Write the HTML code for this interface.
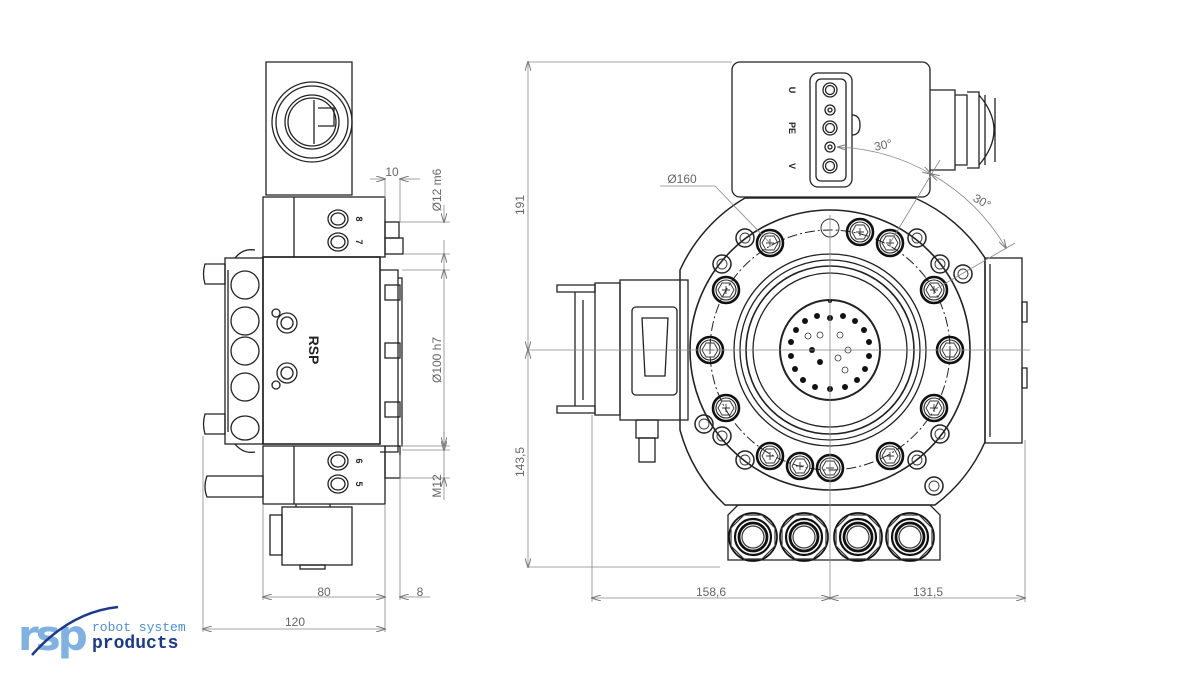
<!DOCTYPE html>
<html><head><meta charset="utf-8"><style>
html,body{margin:0;padding:0;background:#fff;}
svg{display:block;font-family:"Liberation Sans",sans-serif;}
</style></head><body>
<svg width="1200" height="675" viewBox="0 0 1200 675" xmlns="http://www.w3.org/2000/svg">
<defs>
<marker id="a" markerWidth="10" markerHeight="6" refX="9" refY="3" orient="auto-start-reverse" markerUnits="userSpaceOnUse"><path d="M0,0 L10,3 L0,6" fill="none" stroke="#777" stroke-width="1"/></marker>
<g id="bolt"><circle r="13" fill="none" stroke="#111" stroke-width="2.6"/><circle r="10" fill="none" stroke="#222" stroke-width="1.1"/><path d="M-8,0 L-4,-7 L4,-7 L8,0 L4,7 L-4,7Z" fill="none" stroke="#333" stroke-width="0.9"/><path d="M-4,0H4M0,-4V4" stroke="#333" stroke-width="0.9"/></g>
<g id="wash"><circle r="9" fill="none" stroke="#222" stroke-width="1.5"/><circle r="5" fill="none" stroke="#333" stroke-width="0.9"/></g>
<g id="gland"><circle r="24" fill="none" stroke="#111" stroke-width="1.7"/><path d="M-22,-9 L-9,-22 L9,-22 L22,-9 L22,9 L9,22 L-9,22 L-22,9Z" fill="none" stroke="#333" stroke-width="1.2"/><circle r="18" fill="none" stroke="#111" stroke-width="2.2"/><circle r="14" fill="none" stroke="#111" stroke-width="2.8"/><circle r="11" fill="none" stroke="#333" stroke-width="1.2"/></g>
</defs>
<g fill="none" stroke="#222" stroke-width="1.3">
<!-- LEFT VIEW -->
<path d="M266,62 H352 V195 H266Z"/>
<circle cx="312" cy="122" r="40"/><circle cx="312" cy="122" r="36"/><circle cx="312" cy="122" r="27"/><circle cx="312" cy="122" r="24"/>
<path d="M314,100 V144 M318,108 h16 v18 h-16" />
<rect x="263" y="197" width="122" height="60"/><path d="M294,197 V257"/>
<ellipse cx="338" cy="219" rx="10" ry="9"/><ellipse cx="338" cy="219" rx="7" ry="6"/>
<ellipse cx="338" cy="242" rx="10" ry="9"/><ellipse cx="338" cy="242" rx="7" ry="6"/>
<rect x="385" y="222" width="14" height="16"/><rect x="385" y="238" width="18" height="16"/>
<rect x="263" y="257" width="117" height="187" stroke-width="1.6"/>
<rect x="225" y="258" width="38" height="186"/><path d="M228,270 V432"/>
<ellipse cx="245" cy="285" rx="14" ry="14"/><ellipse cx="245" cy="321" rx="14" ry="14"/><ellipse cx="245" cy="351" rx="14" ry="14"/><ellipse cx="245" cy="387" rx="14" ry="14"/><ellipse cx="245" cy="428" rx="14" ry="12"/>
<path d="M205,264 h20 v20 h-20 q-3,-10 0,-20Z M205,414 h20 v20 h-20 q-3,-10 0,-20Z"/>
<path d="M235,258 q8,-10 20,-8 M235,444 q8,10 20,8"/>
<path d="M380,270 h18 v182 h-18 M398,278 h4 v168 h-4"/>
<rect x="385" y="285" width="15" height="15"/><rect x="385" y="343" width="15" height="15"/><rect x="385" y="402" width="15" height="15"/>
<circle cx="287" cy="323" r="10"/><circle cx="287" cy="323" r="6"/><circle cx="276" cy="313" r="4"/>
<circle cx="287" cy="373" r="10"/><circle cx="287" cy="373" r="6"/><circle cx="276" cy="385" r="4"/>
<rect x="263" y="446" width="122" height="58"/><path d="M294,446 V504"/>
<ellipse cx="338" cy="461" rx="10" ry="9"/><ellipse cx="338" cy="461" rx="7" ry="6"/>
<ellipse cx="338" cy="484" rx="10" ry="9"/><ellipse cx="338" cy="484" rx="7" ry="6"/>
<rect x="385" y="446" width="15" height="32"/>
<path d="M207,476 H263 V497 H207 q-4,-10 0,-21Z"/>
<rect x="282" y="507" width="70" height="58"/><rect x="270" y="515" width="12" height="40"/><rect x="300" y="565" width="25" height="4"/>
<path d="M296,504 v3 M330,504 v3"/>
</g>
<g transform="translate(309,350) rotate(90)" font-size="14" font-weight="bold" fill="#222" text-anchor="middle"><text>RSP</text></g>
<g font-size="9" font-weight="bold" fill="#222">
<text transform="translate(356,219) rotate(90)" text-anchor="middle">8</text>
<text transform="translate(356,242) rotate(90)" text-anchor="middle">7</text>
<text transform="translate(356,461) rotate(90)" text-anchor="middle">6</text>
<text transform="translate(356,484) rotate(90)" text-anchor="middle">5</text>
</g>
<!-- left dims -->
<g stroke="#888" stroke-width="0.8" fill="none">
<path d="M263,504 V600 M385,504 V632 M400,455 V600 M203,436 V632"/>
<path d="M263,597 H385" marker-start="url(#a)" marker-end="url(#a)"/>
<path d="M203,629 H385" marker-start="url(#a)" marker-end="url(#a)"/>
<path d="M430,597 H400" marker-end="url(#a)"/>
<path d="M370,179 H385" marker-end="url(#a)"/><path d="M414,179 H400" marker-end="url(#a)"/><path d="M385,179 v20 M400,179 V222"/>
<path d="M400,222 H450 M403,254 H450 M402,270 H450 M402,450 H450 M400,446 H450 M400,478 H450 M413,179 H420"/>
<path d="M444,205 V222" marker-end="url(#a)"/><path d="M444,270 V254" marker-end="url(#a)"/><path d="M444,240 V254"/>
<path d="M444,270 V450" marker-start="url(#a)" marker-end="url(#a)"/>
<path d="M444,432 V446" marker-end="url(#a)"/><path d="M444,500 V478" marker-end="url(#a)"/><path d="M444,446 V478"/>
</g>
<g font-size="12" fill="#666">
<text x="324" y="596" text-anchor="middle">80</text>
<text x="295" y="626" text-anchor="middle">120</text>
<text x="420" y="596" text-anchor="middle">8</text>
<text x="392" y="176" text-anchor="middle">10</text>
<text transform="translate(441,190) rotate(-90)" text-anchor="middle">Ø12 m6</text>
<text transform="translate(441,360) rotate(-90)" text-anchor="middle">Ø100 h7</text>
<text transform="translate(441,486) rotate(-90)" text-anchor="middle">M12</text>
<text transform="translate(524,205) rotate(-90)" text-anchor="middle">191</text>
<text transform="translate(524,462) rotate(-90)" text-anchor="middle">143,5</text>
<text x="711" y="596" text-anchor="middle">158,6</text>
<text x="928" y="596" text-anchor="middle">131,5</text>
<text x="682" y="183" text-anchor="middle">Ø160</text>
<text x="884" y="149" text-anchor="middle" transform="rotate(-12 884 149)">30°</text>
<text x="980" y="205" text-anchor="middle" transform="rotate(30 980 205)">30°</text>
</g>
<!-- RIGHT VIEW -->
<g fill="none" stroke="#222" stroke-width="1.3">
<path d="M745,198 H915 A160,160 0 0 1 985,258 V442 A160,160 0 0 1 935,505 H725 A160,160 0 0 1 680,430 V270 A160,160 0 0 1 745,198Z" stroke-width="1.5"/>
<rect x="732" y="62" width="198" height="135" rx="8"/>
<rect x="810" y="73" width="42" height="114" rx="8"/><rect x="816" y="79" width="30" height="102" rx="5"/>
<path d="M852,115 q8,0 8,10 q0,10 -8,10"/>
<circle cx="830" cy="90" r="7"/><circle cx="830" cy="90" r="4.5"/>
<circle cx="830" cy="110" r="5"/><circle cx="830" cy="110" r="2"/>
<circle cx="830" cy="128" r="7"/><circle cx="830" cy="128" r="4.5"/>
<circle cx="830" cy="147" r="5"/><circle cx="830" cy="147" r="2"/>
<circle cx="830" cy="166" r="7"/><circle cx="830" cy="166" r="4.5"/>
<path d="M930,90 h25 v80 h-25 M955,95 h12 v70 h-12 M967,92 h12 v76 h-12 M979,95 q30,35 0,70 M985,95 v70 M995,98 v64"/>
<circle cx="830" cy="350" r="140" stroke-width="1.6"/>
<circle cx="830" cy="350" r="120" stroke-dasharray="10,3,2,3" stroke-width="1"/>
<circle cx="830" cy="350" r="96"/><circle cx="830" cy="350" r="90"/><circle cx="830" cy="350" r="84" stroke-width="1.6"/><circle cx="830" cy="350" r="77"/>
<circle cx="830" cy="350" r="50" stroke-width="2"/>
<rect x="620" y="280" width="68" height="140"/><rect x="632" y="307" width="45" height="88" rx="4"/><path d="M642,318 h26 l-3,58 h-20Z"/>
<rect x="595" y="283" width="25" height="132"/><path d="M557,285 h38 v7 h-38Z M557,406 h38 v7 h-38Z M575,292 v114 M583,300 v100"/>
<rect x="636" y="420" width="22" height="18"/><rect x="639" y="438" width="16" height="24"/>
<rect x="985" y="258" width="37" height="185"/><path d="M990,264 V437"/><rect x="1022" y="302" width="5" height="20"/><rect x="1022" y="368" width="5" height="20"/>
<path d="M728,515 L738,505 H930 L940,515 V560 H728Z"/>
</g>
<g fill="#111">
<circle cx="830" cy="318" r="3"/><circle cx="843" cy="316" r="3"/><circle cx="817" cy="316" r="3"/><circle cx="855" cy="321" r="3"/><circle cx="805" cy="321" r="3"/><circle cx="864" cy="330" r="3"/><circle cx="796" cy="330" r="3"/><circle cx="869" cy="342" r="3"/><circle cx="791" cy="342" r="3"/><circle cx="869" cy="356" r="3"/><circle cx="791" cy="356" r="3"/><circle cx="865" cy="369" r="3"/><circle cx="795" cy="369" r="3"/><circle cx="857" cy="380" r="3"/><circle cx="803" cy="380" r="3"/><circle cx="845" cy="387" r="3"/><circle cx="815" cy="387" r="3"/><circle cx="830" cy="389" r="3"/><circle cx="812" cy="350" r="3"/><circle cx="820" cy="362" r="3"/><circle cx="830" cy="301" r="2"/>
</g>
<g fill="none" stroke="#333" stroke-width="0.8"><circle cx="820" cy="335" r="3"/><circle cx="840" cy="335" r="3"/><circle cx="848" cy="350" r="3"/><circle cx="838" cy="358" r="3"/><circle cx="845" cy="370" r="3"/><circle cx="808" cy="336" r="3"/></g>
<use href="#bolt" x="770" y="243"/><use href="#bolt" x="890" y="243"/><use href="#bolt" x="726" y="290"/><use href="#bolt" x="934" y="290"/>
<use href="#bolt" x="710" y="350"/><use href="#bolt" x="950" y="350"/><use href="#bolt" x="726" y="408"/><use href="#bolt" x="934" y="408"/>
<use href="#bolt" x="770" y="456"/><use href="#bolt" x="890" y="456"/><use href="#bolt" x="830" y="468"/><use href="#bolt" x="800" y="466"/><use href="#bolt" x="860" y="232"/>
<circle cx="830" cy="228" r="9" fill="none" stroke="#333"/>
<use href="#wash" x="745" y="238"/><use href="#wash" x="917" y="238"/><use href="#wash" x="722" y="264"/><use href="#wash" x="940" y="264"/>
<use href="#wash" x="722" y="436"/><use href="#wash" x="940" y="434"/><use href="#wash" x="745" y="460"/><use href="#wash" x="917" y="460"/>
<use href="#wash" x="963" y="274"/><use href="#wash" x="704" y="424"/><use href="#wash" x="934" y="486"/>
<use href="#gland" x="753" y="537"/><use href="#gland" x="804" y="537"/><use href="#gland" x="858" y="537"/><use href="#gland" x="910" y="537"/>
<g font-size="9" font-weight="bold" fill="#222">
<text transform="translate(789,90) rotate(90)" text-anchor="middle">U</text>
<text transform="translate(789,128) rotate(90)" text-anchor="middle">PE</text>
<text transform="translate(789,166) rotate(90)" text-anchor="middle">V</text>
</g>
<!-- right dims -->
<g stroke="#888" stroke-width="0.8" fill="none">
<path d="M528,62 H732 M528,567 H720 M528,350 H1030 M830,215 V600 M592,415 V602 M1025,440 V602"/>
<path d="M528,62 V350" marker-start="url(#a)" marker-end="url(#a)"/>
<path d="M528,350 V567" marker-start="url(#a)" marker-end="url(#a)"/>
<path d="M592,598 H830" marker-start="url(#a)" marker-end="url(#a)"/>
<path d="M830,598 H1025" marker-start="url(#a)" marker-end="url(#a)"/>
<path d="M660,186 H715 L770,243"/>
<path d="M838,147 A203,203 0 0 1 931,174" marker-start="url(#a)" marker-end="url(#a)"/>
<path d="M931,174 A203,203 0 0 1 1006,248" marker-start="url(#a)" marker-end="url(#a)"/>
<path d="M890,243 L940,160 M934,290 L1015,243"/>
</g>
<!-- logo -->
<text x="18" y="650" font-family="DejaVu Sans, sans-serif" font-size="42" font-weight="bold" fill="#7fb2e2" letter-spacing="-3">rsp</text>
<path d="M32,655 Q70,612 118,607" fill="none" stroke="#1b3a8c" stroke-width="2.5"/>
<text x="92" y="631" font-family="Liberation Mono, monospace" font-size="13" fill="#4a8fd4">robot system</text>
<text x="92" y="648" font-family="Liberation Mono, monospace" font-size="18" font-weight="bold" fill="#1b3a8c">products</text>
</svg>
</body></html>
